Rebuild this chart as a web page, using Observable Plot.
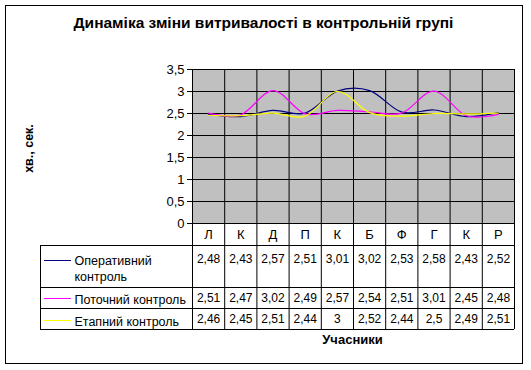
<!DOCTYPE html>
<html><head><meta charset="utf-8">
<script src="https://cdn.jsdelivr.net/npm/d3@7"></script>
<script src="https://cdn.jsdelivr.net/npm/@observablehq/plot@0.6"></script>
<style>
body{margin:0;background:#fff;}
#wrap{position:relative;width:531px;height:370px;}
#chart{position:absolute;left:0;top:0;}
#border{position:absolute;left:5px;top:5px;width:516px;height:357px;border:1px solid #000;pointer-events:none;}
</style></head><body>
<div id="wrap">
<div id="chart"></div>
<div id="border"></div>
</div>
<script>
const title = "Динаміка зміни витривалості в контрольній групі";
const yLabel = "хв., сек.";
const xLabel = "Учасники";
const categories = ["Л","К","Д","П","К","Б","Ф","Г","К","Р"];
const seriesNames = ["Оперативний\nконтроль","Поточний контроль","Етапний контроль"];
const operative = [2.48,2.43,2.57,2.51,3.01,3.02,2.53,2.58,2.43,2.52];
const current = [2.51,2.47,3.02,2.49,2.57,2.54,2.51,3.01,2.45,2.48];
const stage = [2.46,2.45,2.51,2.44,3,2.52,2.44,2.5,2.49,2.51];
const yTicks = [0,0.5,1,1.5,2,2.5,3,3.5];

const colors = ["#000080","#ff00ff","#ffff00"];
const values = [operative, current, stage];
// layout (pixel offsets relative to the plot frame)
const numDy = [36, 75, 96];
const nameDy = [44, 75, 97];
const legendLineDy = [37, 75, 97];
const rowLineDy = [22, 64, 85, 106];

const fmt = d => String(d).replace(".", ",");
const marks = [
  Plot.frame({fill: "#c0c0c0", stroke: null}),
  Plot.ruleY(yTicks, {stroke: "#000"}),
  Plot.ruleX(d3.range(categories.length + 1), {stroke: "#000", insetBottom: -106}),
  Plot.ruleX([0], {stroke: "#000", dx: -152, insetTop: 176, insetBottom: -106}),
  ...rowLineDy.map(dy => Plot.ruleY([0], {stroke: "#000", dy, insetLeft: -152})),
  Plot.text(categories, {x: (d, i) => i + 0.5, text: d => d, frameAnchor: "bottom", lineAnchor: "middle", dy: 11, fontSize: 13}),
  Plot.text([title], {text: d => d, frameAnchor: "top-left", lineAnchor: "middle", textAnchor: "middle", dx: 71, dy: -46, fontSize: 15.5, fontWeight: "bold"}),
  Plot.text([yLabel], {text: d => d, frameAnchor: "left", lineAnchor: "middle", textAnchor: "middle", rotate: -90, dx: -164, dy: 2, fontSize: 12.5, fontWeight: "bold"}),
  Plot.text([xLabel], {text: d => d, frameAnchor: "bottom-left", lineAnchor: "middle", textAnchor: "middle", dx: 160, dy: 116, fontSize: 13, fontWeight: "bold"})
];
values.forEach((vals, s) => {
  marks.push(Plot.line(vals, {x: (d, i) => i + 0.5, y: d => d, stroke: colors[s], strokeWidth: 1.2, curve: "cardinal"}));
});
values.forEach((vals, s) => {
  marks.push(Plot.text(vals, {x: (d, i) => i + 0.5, text: fmt, frameAnchor: "bottom", lineAnchor: "middle", dy: numDy[s], fontSize: 12}));
  marks.push(Plot.text([seriesNames[s]], {text: d => d, frameAnchor: "bottom-left", lineAnchor: "middle", dx: -118, dy: nameDy[s], textAnchor: "start", fontSize: 12.5, lineHeight: 1.3}));
  marks.push(Plot.ruleY([0], {stroke: colors[s], dy: legendLineDy[s], insetLeft: -148, insetRight: 443}));
});

const chart = Plot.plot({
  width: 531, height: 370,
  marginLeft: 192, marginRight: 17, marginTop: 69, marginBottom: 147,
  style: {fontFamily: "'Liberation Sans', Arial, sans-serif", fontSize: "13px", background: "transparent", color: "#000", overflow: "visible"},
  x: {domain: [0, categories.length], axis: null},
  y: {domain: [0, 3.5], ticks: yTicks, tickSize: 5, tickPadding: 3, tickFormat: fmt},
  marks
});
document.getElementById("chart").appendChild(chart);
</script>
</body></html>
